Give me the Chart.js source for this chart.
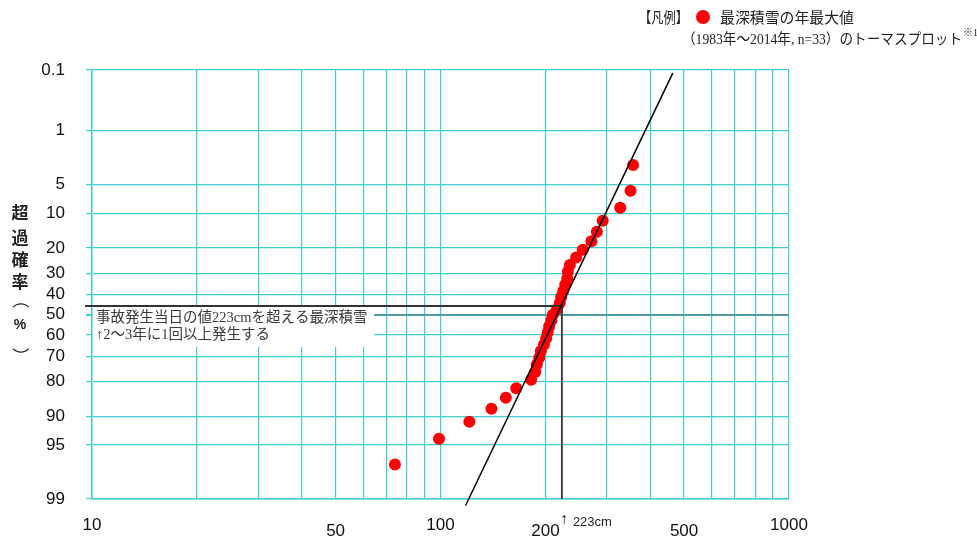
<!DOCTYPE html>
<html><head><meta charset="utf-8">
<script src="https://cdn.jsdelivr.net/npm/chart.js@4/dist/chart.umd.min.js"></script>
<style>html,body{margin:0;padding:0;background:#fff;}#wrap{width:977px;height:541px;position:relative;}</style>
</head><body><div id="wrap"><canvas id="c" width="977" height="541"></canvas></div>
<script>
// ---- data ----
const snowDepth = [357, 351, 328, 292, 281, 271, 256, 245, 235, 232, 231, 228, 225, 222, 220, 216, 210, 208, 205, 203, 201, 198, 194, 192, 189, 187, 182, 165, 154, 140, 121, 99, 74];
const exceedProb = [2.94, 5.88, 8.82, 11.76, 14.71, 17.65, 20.59, 23.53, 26.47, 29.41, 32.35, 35.29, 38.24, 41.18, 44.12, 47.06, 50.00, 52.94, 55.88, 58.82, 61.76, 64.71, 67.65, 70.59, 73.53, 76.47, 79.41, 82.35, 85.29, 88.24, 91.18, 94.12, 97.06];
const fitX = [118, 464];
const fitProb = [99.2, 0.114];
const refX = [9.55, 223, 223];
const refProb = [45.6, 45.6, 99];
const yTickProbs = [0.1, 1, 5, 10, 20, 30, 40, 50, 60, 70, 80, 90, 95, 99];
const yTickLabels = ['0.1', '1', '5', '10', '20', '30', '40', '50', '60', '70', '80', '90', '95', '99'];
const xGridValues = [10, 20, 30, 40, 50, 60, 70, 80, 90, 100, 200, 300, 400, 500, 600, 700, 800, 900, 1000];
const xLabelValues = [10, 50, 100, 200, 500, 1000];
const xLabelTexts = ['10', '50', '100', '200', '500', '1000'];
const xLabelLow = [50, 200, 500];

// inverse standard normal (Acklam)
function invNorm(p){
  const a=[-3.969683028665376e+01,2.209460984245205e+02,-2.759285104469687e+02,1.383577518672690e+02,-3.066479806614716e+01,2.506628277459239e+00];
  const b=[-5.447609879822406e+01,1.615858368580409e+02,-1.556989798598866e+02,6.680131188771972e+01,-1.328068155288572e+01];
  const c=[-7.784894002430293e-03,-3.223964580411365e-01,-2.400758277161838e+00,-2.549732539343734e+00,4.374664141464968e+00,2.938163982698783e+00];
  const d=[7.784695709041462e-03,3.224671290700398e-01,2.445134137142996e+00,3.754408661907416e+00];
  const pl=0.02425, ph=1-pl; let q,r;
  if(p<pl){q=Math.sqrt(-2*Math.log(p));return (((((c[0]*q+c[1])*q+c[2])*q+c[3])*q+c[4])*q+c[5])/((((d[0]*q+d[1])*q+d[2])*q+d[3])*q+1);}
  if(p<=ph){q=p-0.5;r=q*q;return (((((a[0]*r+a[1])*r+a[2])*r+a[3])*r+a[4])*r+a[5])*q/(((((b[0]*r+b[1])*r+b[2])*r+b[3])*r+b[4])*r+1);}
  q=Math.sqrt(-2*Math.log(1-p));return -(((((c[0]*q+c[1])*q+c[2])*q+c[3])*q+c[4])*q+c[5])/((((d[0]*q+d[1])*q+d[2])*q+d[3])*q+1);
}
const zOf = P => invNorm(1 - P / 100);

const GRID = '#3fcfcf';
const SANS = '"Liberation Sans", Arial, sans-serif';
const JP = '"Noto Sans CJK JP", sans-serif';
const SERIFJP = '"Liberation Serif", "Noto Sans CJK JP", serif';

const pts = snowDepth.map((v, i) => ({x: v, y: zOf(exceedProb[i])}));
const fitPts = fitX.map((v, i) => ({x: v, y: zOf(fitProb[i])}));
const refPts = refX.map((v, i) => ({x: v, y: zOf(refProb[i])}));

const decor = {
  id: 'decor',
  beforeDatasetsDraw(chart) {
    const ctx = chart.ctx, ca = chart.chartArea;
    ctx.save();
    ctx.fillStyle = '#fff';
    ctx.fillRect(ca.left + 1, 307, 281, 40);
    ctx.fillStyle = '#3a3a3a';
    ctx.font = '14.5px ' + SERIFJP;
    ctx.textBaseline = 'middle';
    ctx.textAlign = 'left';
    ctx.fillText('事故発生当日の値223cmを超える最深積雪', ca.left + 4, 318);
    ctx.fillText('↑2～3年に1回以上発生する', ca.left + 4, 335);
    ctx.restore();
  },
  afterDraw(chart) {
    const ctx = chart.ctx, xs = chart.scales.x;
    ctx.save();
    // legend
    ctx.fillStyle = '#222';
    ctx.textBaseline = 'middle';
    ctx.textAlign = 'left';
    ctx.font = '15px ' + JP;
    ctx.fillText('【凡例】', 639, 17, 49);
    ctx.beginPath(); ctx.arc(703, 17, 7, 0, Math.PI * 2); ctx.fillStyle = '#ff0000'; ctx.fill();
    ctx.fillStyle = '#222';
    ctx.fillText('最深積雪の年最大値', 720, 17, 134);
    ctx.font = '14.5px ' + SERIFJP;
    ctx.fillText('（1983年～2014年, n=33）のトーマスプロット', 682, 40, 280);
    ctx.font = '10px ' + SERIFJP;
    ctx.fillText('※1', 963, 33);
    // 223cm marker label
    const px = xs.getPixelForValue(223);
    ctx.fillStyle = '#222';
    ctx.font = '16px ' + SANS;
    ctx.fillText('↑', px - 2, 520);
    ctx.font = '13px ' + SANS;
    ctx.fillText('223cm', px + 11, 522);
    // y axis title (vertical)
    ctx.fillStyle = '#222';
    ctx.textAlign = 'center';
    ctx.font = 'bold 17px ' + JP;
    const chars = ['超', '過', '確', '率'];
    const ys = [213, 238, 260, 282];
    chars.forEach((ch, i) => ctx.fillText(ch, 20, ys[i]));
    ctx.font = '17px ' + JP;
    ctx.save(); ctx.translate(20, 300); ctx.rotate(Math.PI / 2); ctx.fillText('（', 0, 0); ctx.restore();
    ctx.font = 'bold 14px ' + SANS;
    ctx.fillText('%', 20, 325);
    ctx.font = '17px ' + JP;
    ctx.save(); ctx.translate(20, 356); ctx.rotate(Math.PI / 2); ctx.fillText('）', 0, 0); ctx.restore();
    ctx.restore();
  }
};

new Chart(document.getElementById('c'), {
  type: 'scatter',
  data: {
    datasets: [
      {data: fitPts, showLine: true, borderColor: '#000', borderWidth: 1.5, pointRadius: 0, clip: false, order: 0},
      {data: refPts, showLine: true, borderColor: '#333', borderWidth: 1.8, pointRadius: 0, clip: false, order: 1},
      {data: pts, backgroundColor: '#ff0000', borderWidth: 0, pointRadius: 6, order: 2}
    ]
  },
  options: {
    responsive: false,
    animation: false,
    devicePixelRatio: 1,
    layout: {padding: {left: 0, right: 188, top: 70, bottom: 0}},
    plugins: {legend: {display: false}, tooltip: {enabled: false}},
    scales: {
      x: {
        type: 'logarithmic', min: 10, max: 1000,
        afterBuildTicks: s => { s.ticks = xGridValues.map(v => ({value: v})); },
        afterFit: s => { s.height = 42; },
        grid: {color: GRID, lineWidth: 1.2, drawTicks: false},
        border: {color: GRID, width: 1.5},
        ticks: {
          autoSkip: false, maxRotation: 0, minRotation: 0, padding: 16, color: '#111',
          font: ctx => ({family: SANS, size: 17, lineHeight: (ctx.tick && xLabelLow.includes(ctx.tick.value)) ? '32px' : '20px'}),
          callback: v => { const i = xLabelValues.indexOf(v); return i >= 0 ? xLabelTexts[i] : ''; }
        }
      },
      y: {
        type: 'linear', min: zOf(99), max: zOf(0.1),
        afterBuildTicks: s => { s.ticks = yTickProbs.map(p => ({value: zOf(p)})); },
        afterFit: s => { s.width = 92; },
        grid: {
          color: ctx => (ctx.tick && Math.abs(ctx.tick.value) < 1e-9) ? '#4f9d9d' : GRID,
          lineWidth: ctx => (ctx.tick && Math.abs(ctx.tick.value) < 1e-9) ? 2 : 1.2,
          tickLength: 6, tickColor: GRID
        },
        border: {color: GRID, width: 1.5},
        ticks: {autoSkip: false, padding: 21, color: '#111', font: {family: SANS, size: 17},
          callback: (v, i) => yTickLabels[i]}
      }
    }
  },
  plugins: [decor]
});
</script></body></html>
